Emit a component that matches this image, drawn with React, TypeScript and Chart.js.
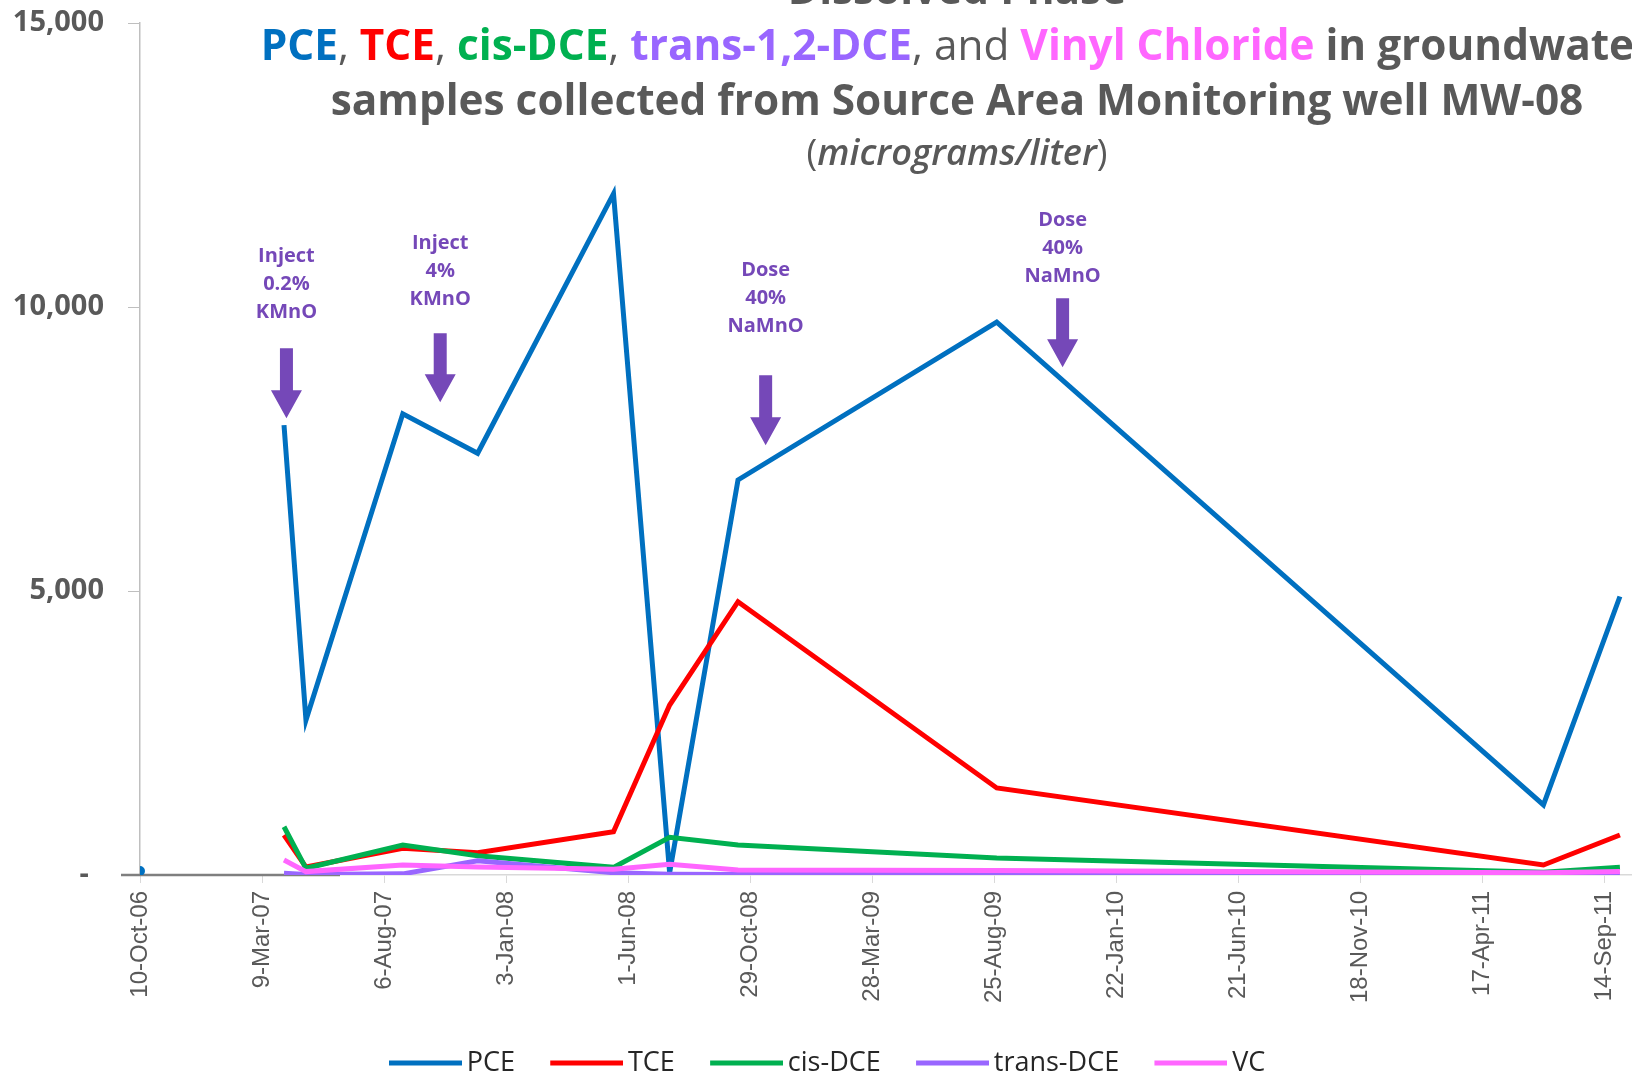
import React, { useEffect, useRef } from 'react';
import { Chart, registerables } from 'chart.js';
Chart.register(...registerables);

// ---------------- data ----------------
const sampleDates = ['2006-10-10', '2007-04-05', '2007-05-02', '2007-08-29', '2007-11-29', '2008-05-14', '2008-07-22', '2008-10-14', '2009-08-28', '2011-07-01', '2011-10-03'];
const pceValues = [70, 7920, 2728, 8120, 7425, 11995, 40, 6955, 9735, 1235, 4903];
const tceValues = [null, 704, 140, 470, 393, 762, 2992, 4812, 1533, 176, 704];
const cisDceValues = [null, 850, 118, 528, 340, 135, 663, 528, 300, 50, 135];
const transDceValues = [null, 30, 10, 20, 250, 40, 15, 10, 10, 5, 10];
const vcValues = [null, 264, 60, 176, 140, 100, 188, 90, 80, 40, 60];

const seriesNames = ['PCE', 'TCE', 'cis-DCE', 'trans-DCE', 'VC'];
const seriesColors = ['#0070C0', '#FF0000', '#00B050', '#9966FF', '#FF66FF'];

const xTickLabels = ['10-Oct-06', '9-Mar-07', '6-Aug-07', '3-Jan-08', '1-Jun-08', '29-Oct-08', '28-Mar-09', '25-Aug-09', '22-Jan-10', '21-Jun-10', '18-Nov-10', '17-Apr-11', '14-Sep-11', '10-Feb-12'];
const yTickLabels = ['-', '5,000', '10,000', '15,000'];

const titleLine1 = 'Dissolved Phase';
const titleLine2 = [
  { text: 'PCE', color: '#0070C0', bold: true },
  { text: ', ', color: '#595959', bold: false },
  { text: 'TCE', color: '#FF0000', bold: true },
  { text: ', ', color: '#595959', bold: false },
  { text: 'cis-DCE', color: '#00B050', bold: true },
  { text: ', ', color: '#595959', bold: false },
  { text: 'trans-1,2-DCE', color: '#9966FF', bold: true },
  { text: ', and ', color: '#595959', bold: false },
  { text: 'Vinyl Chloride', color: '#FF66FF', bold: true },
  { text: ' in groundwater', color: '#595959', bold: true },
];
const titleLine3 = 'samples collected from Source Area Monitoring well MW-08';
const titleUnits = ['(', 'micrograms/liter', ')'];

// treatment events: date, label lines, label value, arrow start / tip values
const eventDates = ['2007-04-08', '2007-10-14', '2008-11-17', '2009-11-17'];
const eventLabels = [['Inject', '0.2%', 'KMnO'], ['Inject', '4%', 'KMnO'], ['Dose', '40%', 'NaMnO'], ['Dose', '40%', 'NaMnO']];
const eventLabelValues = [10886, 11123, 10648, 11528];
const eventArrowFrom = [9275, 9539, 8800, 10155];
const eventArrowTo = [8043, 8325, 7568, 8941];

// --------------- helpers ---------------
const EXCEL_EPOCH = Date.UTC(1899, 11, 30);
function toSerial(iso: string): number {
  const [y, m, d] = iso.split('-').map(Number);
  return Math.round((Date.UTC(y, m - 1, d) - EXCEL_EPOCH) / 86400000);
}

const SANS = '"Open Sans", "Liberation Sans", sans-serif';
const ARIAL = '"Liberation Sans", Arial, sans-serif';
const GRAY = '#595959';
const PURPLE = '#7548B8';
const LEGEND_FS = 27;

function legendSwatch(color: string) {
  const c = document.createElement('canvas');
  c.width = 82;
  c.height = 8;
  const g = c.getContext('2d')!;
  g.fillStyle = color;
  g.fillRect(9, 1.5, 73, 5);
  return c;
}

const titlePlugin = {
  id: 'richTitle',
  afterDraw(chart: any) {
    const ctx = chart.ctx as CanvasRenderingContext2D;
    const cx = 957;
    ctx.save();
    ctx.textBaseline = 'alphabetic';
    const base = 40;
    ctx.font = `bold ${base}px ${SANS}`;
    const size = (base * 1253) / ctx.measureText(titleLine3).width;

    ctx.font = `bold ${size}px ${SANS}`;
    ctx.fillStyle = GRAY;
    ctx.textAlign = 'center';
    ctx.fillText(titleLine1, cx, 4);
    ctx.fillText(titleLine3, cx, 115);

    ctx.textAlign = 'left';
    const widths = titleLine2.map((s) => {
      ctx.font = `${s.bold ? 'bold ' : ''}${size}px ${SANS}`;
      return ctx.measureText(s.text).width;
    });
    const total = widths.reduce((a, b) => a + b, 0);
    let x = cx - total / 2;
    titleLine2.forEach((s, i) => {
      ctx.font = `${s.bold ? 'bold ' : ''}${size}px ${SANS}`;
      ctx.fillStyle = s.color;
      ctx.fillText(s.text, x, 60);
      x += widths[i];
    });

    const fonts = (sz: number) => [`${sz}px ${SANS}`, `italic 600 ${sz}px ${SANS}`, `${sz}px ${SANS}`];
    const meas = (sz: number) =>
      titleUnits.reduce((acc, t, i) => {
        ctx.font = fonts(sz)[i];
        return acc + ctx.measureText(t).width;
      }, 0);
    const us = (base * 301) / meas(base);
    const uw = meas(us);
    let ux = cx - uw / 2;
    ctx.fillStyle = GRAY;
    titleUnits.forEach((t, i) => {
      ctx.font = fonts(us)[i];
      ctx.fillText(t, ux, 165);
      ux += ctx.measureText(t).width;
    });
    ctx.restore();
  },
};

const eventsPlugin = {
  id: 'events',
  afterDatasetsDraw(chart: any) {
    const ctx = chart.ctx as CanvasRenderingContext2D;
    const xs = chart.scales.x;
    const ys = chart.scales.y;
    ctx.save();
    ctx.fillStyle = PURPLE;
    ctx.font = `bold 20px ${SANS}`;
    ctx.textAlign = 'center';
    ctx.textBaseline = 'middle';
    eventDates.forEach((d, i) => {
      const x = xs.getPixelForValue(toSerial(d));
      const yl = ys.getPixelForValue(eventLabelValues[i]);
      eventLabels[i].forEach((t, k) => ctx.fillText(t, x, yl + k * 28));
      const yTop = ys.getPixelForValue(eventArrowFrom[i]);
      const yTip = ys.getPixelForValue(eventArrowTo[i]);
      const headH = 28;
      const shaftW = 13;
      const headW = 31;
      ctx.beginPath();
      ctx.moveTo(x - shaftW / 2, yTop);
      ctx.lineTo(x + shaftW / 2, yTop);
      ctx.lineTo(x + shaftW / 2, yTip - headH);
      ctx.lineTo(x + headW / 2, yTip - headH);
      ctx.lineTo(x, yTip);
      ctx.lineTo(x - headW / 2, yTip - headH);
      ctx.lineTo(x - shaftW / 2, yTip - headH);
      ctx.closePath();
      ctx.fill();
    });
    ctx.restore();
  },
};

const axisSegmentPlugin = {
  id: 'axisSegment',
  beforeDatasetsDraw(chart: any) {
    const ctx = chart.ctx as CanvasRenderingContext2D;
    const { left, bottom } = chart.chartArea;
    ctx.save();
    ctx.strokeStyle = '#7F7F7F';
    ctx.lineWidth = 2.5;
    ctx.beginPath();
    ctx.moveTo(left - 19, bottom);
    ctx.lineTo(left + 200, bottom);
    ctx.stroke();
    ctx.restore();
  },
};

const legendPlace = {
  id: 'legendPlace',
  afterLayout(chart: any) {
    const lg = chart.legend;
    if (!lg) return;
    const pad = lg.options.labels.padding;
    const h = lg.height;
    lg.left = 0;
    lg.right = 2 * 827;
    lg.top = 1063 - pad - LEGEND_FS / 2;
    lg.bottom = lg.top + h;
  },
};

export default function App() {
  const ref = useRef<HTMLCanvasElement | null>(null);

  useEffect(() => {
    if (!ref.current) return;
    const xs = sampleDates.map(toSerial);
    const all = [pceValues, tceValues, cisDceValues, transDceValues, vcValues];
    const swatches = seriesColors.map(legendSwatch);
    const datasets = all.map((vals, i) => ({
      label: seriesNames[i],
      data: vals.map((v, k) => ({ x: xs[k], y: v })),
      borderColor: seriesColors[i],
      backgroundColor: seriesColors[i],
      borderWidth: 5,
      tension: 0,
      pointRadius: i === 0 ? (c: any) => (c.dataIndex === 0 ? 2.5 : 0) : 0,
      pointHoverRadius: 0,
      spanGaps: false,
      order: 4 - i,
      segment: {
        borderColor: (c: any) => (c.p0DataIndex === 0 ? 'rgba(0,0,0,0)' : undefined),
      },
    }));

    const chart = new Chart(ref.current, {
      type: 'line',
      data: { datasets },
      options: {
        animation: false,
        responsive: true,
        maintainAspectRatio: false,
        layout: { padding: { top: 23, left: 0, right: 0, bottom: 0 } },
        plugins: {
          legend: {
            position: 'bottom',
            labels: {
              usePointStyle: true,
              pointStyleWidth: 64.5,
              padding: 35,
              color: '#262626',
              font: { family: SANS, size: LEGEND_FS },
              sort: (a: any, b: any) => a.datasetIndex - b.datasetIndex,
              generateLabels: (ch: any) =>
                (Chart as any).defaults.plugins.legend.labels
                  .generateLabels(ch)
                  .map((it: any) => ({ ...it, pointStyle: swatches[it.datasetIndex] })),
            },
          },
          title: { display: false },
          tooltip: { enabled: false },
        },
        scales: {
          x: {
            type: 'linear',
            min: 39000,
            max: 40950,
            afterFit: (s: any) => {
              s.height = 130;
              s.paddingLeft = 0;
              s.paddingRight = 0;
            },
            border: { color: '#D9D9D9', width: 1.5 },
            grid: { drawOnChartArea: false, drawTicks: true, tickLength: 8, color: '#D9D9D9' },
            ticks: {
              stepSize: 150,
              autoSkip: false,
              minRotation: 90,
              maxRotation: 90,
              padding: 8,
              color: GRAY,
              font: { family: ARIAL, size: 24 },
              callback: (_v: any, i: number) => xTickLabels[i] ?? '',
            },
          },
          y: {
            min: 0,
            max: 15000,
            afterFit: (s: any) => {
              s.width = 140;
              s.paddingTop = 0;
              s.paddingBottom = 0;
            },
            border: { color: '#BFBFBF', width: 1.5 },
            grid: { drawOnChartArea: false, drawTicks: true, tickLength: 12, color: '#BFBFBF' },
            ticks: {
              stepSize: 5000,
              padding: 24,
              color: GRAY,
              font: { family: SANS, size: 29, weight: 'bold' },
              callback: (_v: any, i: number) => (i === 0 ? yTickLabels[0] + '  ' : yTickLabels[i]),
            },
          },
        },
      },
      plugins: [titlePlugin, eventsPlugin, axisSegmentPlugin, legendPlace],
    } as any);

    return () => chart.destroy();
  }, []);

  return (
    <div style={{ position: 'fixed', left: 0, top: 0, width: 1632, height: 1077, overflow: 'hidden', background: '#fff' }}>
      <div style={{ position: 'relative', width: 1734, height: 1077 }}>
        <canvas ref={ref} />
      </div>
    </div>
  );
}
